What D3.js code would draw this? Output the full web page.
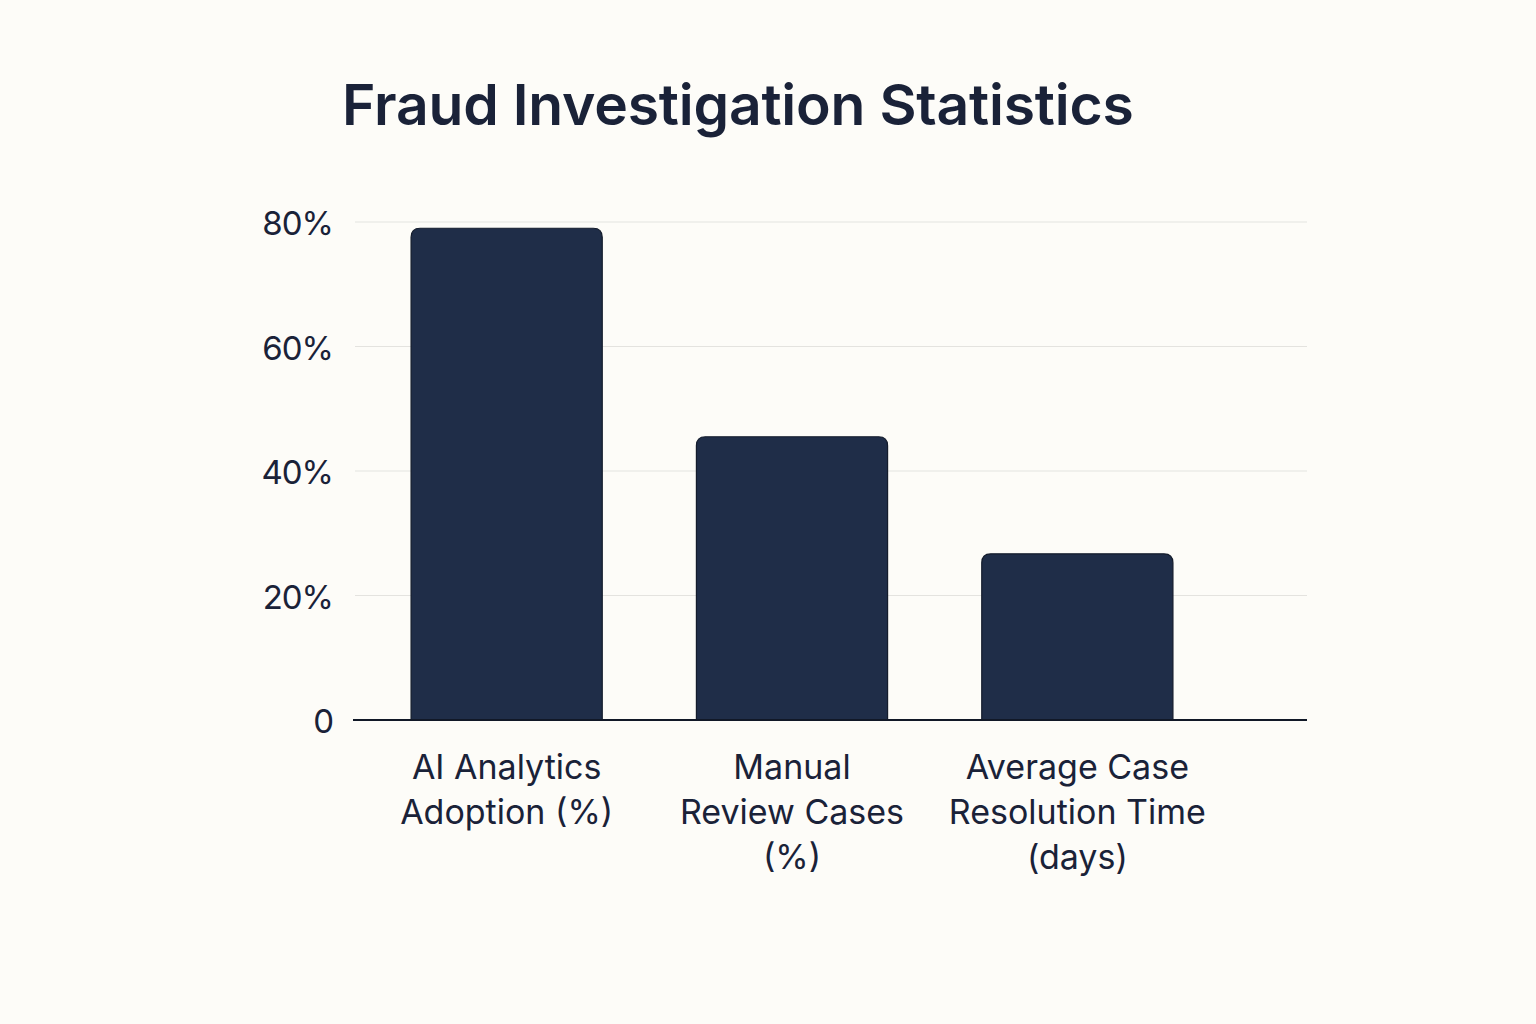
<!doctype html>
<html lang="en">
<head>
  <meta charset="utf-8">
  <title>Fraud Investigation Statistics</title>
  <script src="https://d3js.org/d3.v7.min.js" charset="utf-8"></script>
</head>
<body style="margin:0;background:#fdfcf8;">
<style>
.chart text {
  fill: #1a2238;
  font-family: Inter, "Noto Sans", sans-serif;
}
</style>
<svg class="chart"></svg>
<script>
var categories = [
  ["AI Analytics", "Adoption (%)"],
  ["Manual", "Review Cases", "(%)"],
  ["Average Case", "Resolution Time", "(days)"]
];
var values = [79, 45.5, 26.7];
var tickValues = [0, 20, 40, 60, 80];
var tickLabels = ["0", "20%", "40%", "60%", "80%"];

var width = 1536, height = 1024;

var svg = d3.select(".chart")
  .attr("width", width)
  .attr("height", height);

svg.append("rect")
  .attr("width", width)
  .attr("height", height)
  .attr("fill", "#fdfcf8");

svg.append("text")
  .attr("x", 342)
  .attr("y", 125)
  .attr("font-size", 57)
  .attr("font-weight", 600)
  .attr("letter-spacing", -0.2)
  .text("Fraud Investigation Statistics");

var x = d3.scaleBand()
  .domain(d3.range(values.length))
  .range([354, 1230])
  .paddingInner(0.33)
  .paddingOuter(0.2);

var y = d3.scaleLinear()
  .domain([0, 80])
  .range([720, 222]);

// gridlines
svg.append("g").selectAll("line")
  .data(tickValues.slice(1))
.enter().append("line")
  .attr("x1", 355)
  .attr("x2", 1307)
  .attr("y1", function(d) { return y(d); })
  .attr("y2", function(d) { return y(d); })
  .attr("stroke", "#e4e3df")
  .attr("stroke-width", 1.2);

// y tick labels
svg.append("g").selectAll("text")
  .data(tickValues)
.enter().append("text")
  .attr("x", 333)
  .attr("y", function(d) { return y(d); })
  .attr("dy", "0.4em")
  .attr("text-anchor", "end")
  .attr("font-size", 33)
  .attr("letter-spacing", -1)
  .text(function(d, i) { return tickLabels[i]; });

// bars with rounded top corners
function barPath(x0, w, yTop, yBase, r) {
  return "M" + x0 + "," + yBase +
    "V" + (yTop + r) +
    "Q" + x0 + "," + yTop + " " + (x0 + r) + "," + yTop +
    "H" + (x0 + w - r) +
    "Q" + (x0 + w) + "," + yTop + " " + (x0 + w) + "," + (yTop + r) +
    "V" + yBase + "Z";
}

svg.append("g").selectAll("path")
  .data(values)
.enter().append("path")
  .attr("d", function(d, i) { return barPath(x(i), x.bandwidth(), y(d), y(0), 9); })
  .attr("fill", "#1f2d48")
  .attr("stroke", "#141c2c")
  .attr("stroke-width", 1.2);

// baseline
svg.append("line")
  .attr("x1", 353)
  .attr("x2", 1307)
  .attr("y1", y(0))
  .attr("y2", y(0))
  .attr("stroke", "#111827")
  .attr("stroke-width", 2);

// category labels
var lab = svg.append("g").selectAll("text")
  .data(categories)
.enter().append("text")
  .attr("text-anchor", "middle")
  .attr("font-size", 34)
  .attr("transform", function(d, i) { return "translate(" + (x(i) + x.bandwidth() / 2) + ",779)"; });

lab.selectAll("tspan")
  .data(function(d) { return d; })
.enter().append("tspan")
  .attr("x", 0)
  .attr("y", function(d, i) { return i * 45; })
  .text(function(d) { return d; });
</script>
</body>
</html>
